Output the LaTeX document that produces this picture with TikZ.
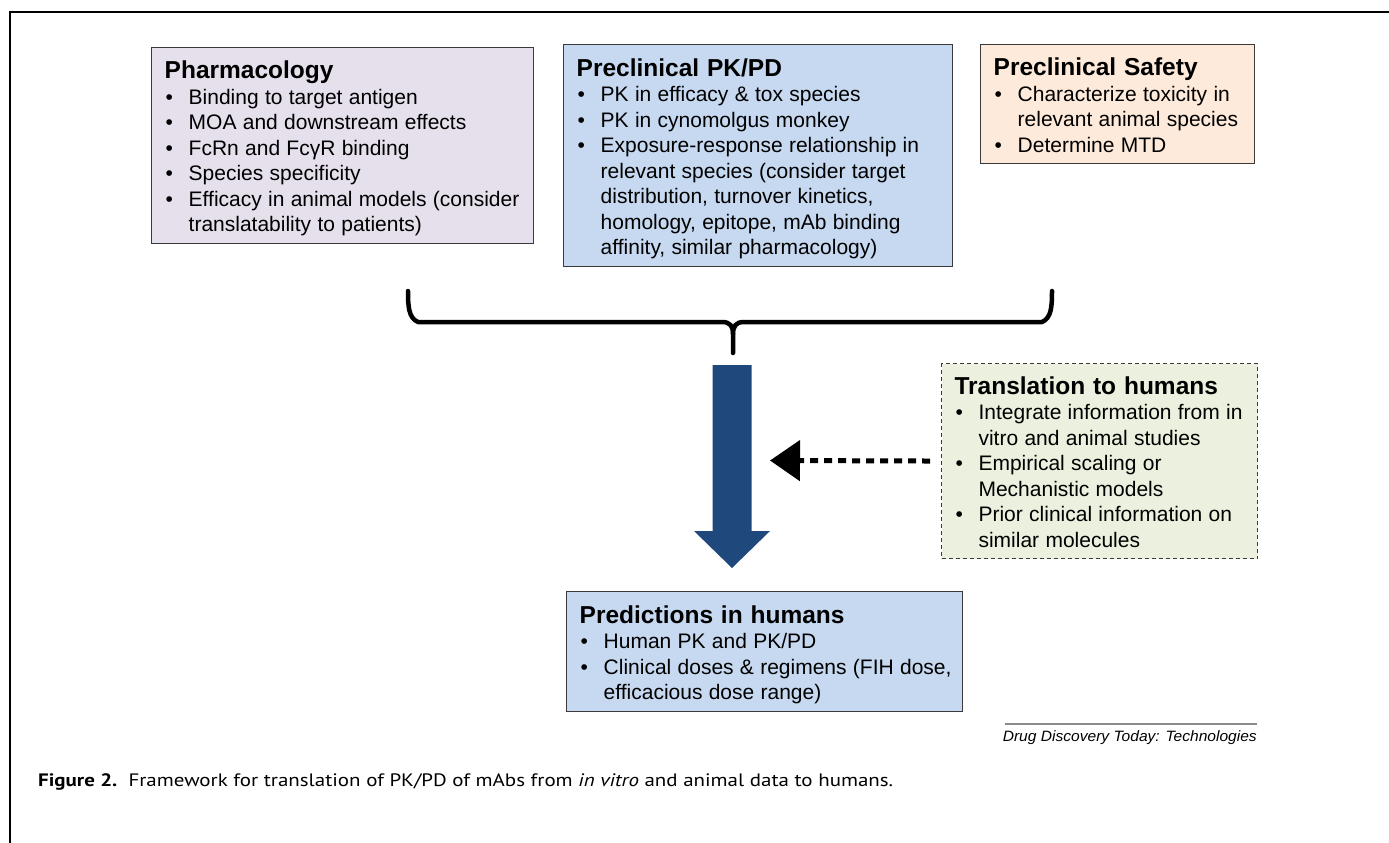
\documentclass[tikz,border=0pt]{standalone}
\usepackage{fontspec}
\setmainfont{Liberation Sans}
\newfontfamily\capfont{PT Sans}
\usepackage{graphicx}
\usetikzlibrary{arrows.meta,calc}
\definecolor{pharmfill}{HTML}{E5E0EC}
\definecolor{pkfill}{HTML}{C6D9F0}
\definecolor{safefill}{HTML}{FDEADA}
\definecolor{transfill}{HTML}{EBF1DE}
\definecolor{bordergray}{HTML}{3A3A3A}
\definecolor{arrowblue}{HTML}{1F497D}
\definecolor{footgray}{HTML}{8C8C8C}
\hfuzz=200pt
\newcommand{\bpoint}[1]{\par\hangindent=24pt\hangafter=1\noindent\makebox[24pt][l]{\hspace{1pt}\textbullet}#1}
\newcommand{\boxbody}[2]{{\fontsize{24.5}{25.5}\selectfont\bfseries\spaceskip=0.32em\relax #1\strut\par}\fontsize{21}{25.5}\selectfont\spaceskip=0.3em\relax #2\strut\par\kern-9pt}
\begin{document}
\begin{tikzpicture}[x=1pt,y=-1pt,
  infobox/.style={draw=bordergray, line width=1.4pt, anchor=north west, inner xsep=13pt, inner ysep=4pt, align=left},
  dashbox/.style={infobox, line width=1.1pt, dash pattern=on 4pt off 3pt},
  frameline/.style={line width=2.5pt, black},
  bracepath/.style={line width=4.5pt, black, line cap=round, line join=round},
  bigarrow/.style={fill=arrowblue},
  dasharrow/.style={line width=5pt, black, dash pattern=on 8pt off 6pt, -{Triangle[length=30pt,width=40pt]}},
  footline/.style={line width=1.5pt, footgray}]
\fill[white] (0,0) rectangle (1389,843);
\useasboundingbox (0,0) rectangle (1389,843);
\draw[frameline] (10,843) -- (10,12) -- (1389,12);

\node[infobox, fill=pharmfill, text width=356pt, minimum height=196pt] (pharm) at (151,47) {\boxbody{Pharmacology}{%
\bpoint{\mbox{Binding to target antigen}}%
\bpoint{\mbox{MOA and downstream effects}}%
\bpoint{\mbox{FcRn and FcγR binding}}%
\bpoint{\mbox{Species specificity}}%
\bpoint{\mbox{Efficacy in animal models (consider}\newline\mbox{translatability to patients)}}}};

\node[infobox, fill=pkfill, text width=363pt, minimum height=222pt] (pkpd) at (563,44) {\boxbody{Preclinical PK/PD}{%
\bpoint{\mbox{PK in efficacy \& tox species}}%
\bpoint{\mbox{PK in cynomolgus monkey}}%
\bpoint{\mbox{Exposure-response relationship in}\newline\mbox{relevant species (consider target}\newline\mbox{distribution, turnover kinetics,}\newline\mbox{homology, epitope, mAb binding}\newline\mbox{affinity, similar pharmacology)}}}};

\node[infobox, fill=safefill, text width=248pt, minimum height=119pt] (safety) at (980,44) {\boxbody{Preclinical Safety}{%
\bpoint{\mbox{Characterize toxicity in}\newline\mbox{relevant animal species}}%
\bpoint{\mbox{Determine MTD}}}};

\node[dashbox, fill=transfill, text width=290pt, minimum height=195pt] (trans) at (941,363) {\boxbody{Translation to humans}{%
\bpoint{\mbox{Integrate information from in}\newline\mbox{vitro and animal studies}}%
\bpoint{\mbox{Empirical scaling or}\newline\mbox{Mechanistic models}}%
\bpoint{\mbox{Prior clinical information on}\newline\mbox{similar molecules}}}};

\node[infobox, fill=pkfill, text width=370pt, minimum height=120pt] (pred) at (566,591) {\boxbody{Predictions in humans}{%
\bpoint{\mbox{Human PK and PK/PD}}%
\bpoint{\mbox{Clinical doses \& regimens (FIH dose,}\newline\mbox{efficacious dose range)}}}};

% brace
\draw[bracepath] (408,291) .. controls (408,306) and (408.5,318) .. (418,322) -- (722,322) .. controls (730,322) and (733,326) .. (733,334) -- (733,353);
\draw[bracepath] (1052,291) .. controls (1052,306) and (1051.5,318) .. (1042,322) -- (744,322) .. controls (736,322) and (733,326) .. (733,334);

% big arrow
\fill[bigarrow] (712.5,365) -- (751.5,365) -- (751.5,531) -- (770,531) -- (732,568) -- (694,531) -- (712.5,531) -- cycle;

% dashed arrow
\coordinate (dtip) at (770,460.5);
\draw[dasharrow, shorten <=11pt] (trans.west) -- (dtip);

% footer
\draw[footline] (1005,724) -- (1257,724);
\node[anchor=base east, inner sep=0pt] (src) at (1257,741) {\resizebox{254pt}{\height}{\itshape\fontsize{15}{17}\selectfont Drug Discovery Today: Technologies}};

\node[anchor=base west, inner sep=0pt] (caption) at (38,786) {\resizebox{855pt}{\height}{\capfont\fontsize{18}{20}\selectfont\textbf{Figure 2.}\ \ Framework for translation of PK/PD of mAbs from \textit{in vitro} and animal data to humans.}};
\end{tikzpicture}
\end{document}
